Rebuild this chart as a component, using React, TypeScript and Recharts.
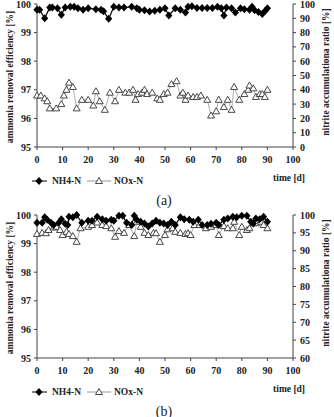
import { LineChart, Line, XAxis, YAxis } from "recharts";

// days on the x axis
const dayTicks = [0, 10, 20, 30, 40, 50, 60, 70, 80, 90, 100];
const effTicks = [95, 96, 97, 98, 99, 100];
const ratioTicksA = [0, 10, 20, 30, 40, 50, 60, 70, 80, 90, 100];
const ratioTicksB = [60, 65, 70, 75, 80, 85, 90, 95, 100];

// (a) NH4-N removal efficiency [%]
const nh4DaysA = [0, 1, 3, 5, 6, 8, 9.5, 11, 13, 14.5, 16, 18, 20, 23, 25, 26, 28, 30, 32, 34, 37, 39, 40, 42, 44, 46, 48, 50, 51.5, 54, 56, 58, 59, 60.5, 62.5, 64.5, 66.5, 68.5, 70.5, 72, 73, 74, 76, 77.5, 79.5, 81, 83, 84, 85, 86.5, 88, 89, 90];
const nh4A = [99.8, 99.8, 99.5, 99.88, 99.88, 99.85, 99.62, 99.88, 99.9, 99.9, 99.85, 99.8, 99.85, 99.82, 99.8, 99.75, 99.48, 99.9, 99.88, 99.88, 99.9, 99.85, 99.8, 99.78, 99.74, 99.76, 99.8, 99.85, 99.6, 99.85, 99.8, 99.7, 99.9, 99.92, 99.86, 99.86, 99.86, 99.86, 99.9, 99.85, 99.6, 99.88, 99.85, 99.7, 99.85, 99.82, 99.8, 99.9, 99.78, 99.72, 99.65, 99.75, 99.85];

// (a) NOx-N nitrite accumulation ratio [%]
const noxDaysA = [0, 1.5, 3, 4, 5, 7.5, 9.5, 10.5, 11.5, 12.5, 14, 15.5, 17.5, 20, 22, 23, 24.5, 26.5, 28.5, 30.5, 32, 34.5, 36, 37.5, 38.5, 39.5, 41, 42, 43, 45, 47, 48, 49.5, 51, 52.5, 54.5, 56, 57, 58, 59, 61, 62.5, 64, 66.5, 68, 70, 71, 73, 74.5, 76, 77, 79, 81, 82.5, 83, 84.5, 85.5, 87, 88, 89, 90];
const noxA = [36, 36, 34, 32, 27, 27, 30, 36, 40, 45, 42, 27, 33, 33, 29, 39, 32, 26, 38, 32, 40, 38, 38, 40, 33, 37, 38, 40, 37, 38, 34, 33, 37, 38, 44, 46, 36, 38, 33, 36, 35, 35, 36, 33, 22, 25, 33, 28, 33, 26, 42, 33, 37, 40, 43, 41, 35, 37, 37, 35, 40];

// (b) NH4-N removal efficiency [%]
const nh4DaysB = [0, 2, 3, 4, 5.5, 6.5, 8.5, 9.5, 11, 12, 12.5, 14, 15.5, 17.5, 20, 21.5, 23.5, 25.5, 27, 29, 30, 32, 33.5, 35, 37, 38, 39, 40.5, 42, 43.5, 45, 46.5, 48, 49.5, 51, 52.5, 54, 56, 57.5, 59.5, 61, 63, 64.5, 66.5, 68, 70, 71, 73, 74.5, 76.5, 78, 80, 82, 83.5, 84.5, 85.5, 87, 88.5, 90];
const nh4B = [99.73, 99.73, 99.92, 99.83, 99.73, 99.65, 99.73, 99.85, 99.69, 99.65, 99.94, 99.92, 100, 99.73, 99.8, 99.8, 99.94, 99.85, 99.8, 99.83, 99.8, 99.97, 99.97, 99.73, 99.65, 99.97, 99.83, 99.76, 99.7, 99.6, 99.7, 99.8, 99.73, 99.7, 99.65, 99.76, 99.65, 99.92, 99.85, 99.83, 99.76, 99.83, 99.65, 99.65, 99.69, 99.73, 99.65, 99.83, 99.88, 99.94, 99.92, 99.97, 99.97, 99.76, 99.7, 99.88, 99.85, 99.94, 99.76];

// (b) NOx-N nitrite accumulation ratio [%]
const noxDaysB = [0, 2, 3.5, 4.5, 6.5, 7.5, 9, 10, 11.5, 12.5, 14, 15.5, 17, 20, 21.5, 23.5, 25.5, 27, 29, 30.5, 32, 34, 36, 38, 39, 40.5, 42, 43.5, 45.5, 46.5, 48, 50, 51, 53, 54, 56, 58, 59, 60, 61.5, 63.5, 66, 68, 70, 71, 73, 74.5, 76.5, 77, 79, 80, 82, 83, 84.5, 85.5, 87.5, 88.5, 90];
const noxB = [94.7, 95, 94.9, 95.8, 96.5, 96.7, 95.8, 94.4, 95.3, 94.7, 94.1, 92.5, 96.3, 96.7, 97.2, 97.9, 97.2, 96.9, 96.3, 93.9, 95.5, 95, 97.2, 94.1, 98.1, 96.7, 95, 94.4, 95, 94.9, 92.5, 94.4, 96, 96.3, 95.3, 95, 94.7, 94.9, 94.4, 97.2, 97.2, 96.3, 96.7, 97.2, 94.4, 96.9, 96.3, 96.3, 98.1, 94.4, 96.7, 95.8, 96.3, 97.7, 97.7, 98.1, 97.2, 96.3];

const zip = (days: number[], values: number[]) =>
  days.map((day, i) => ({ day, value: values[i] }));

const FONT = "'Liberation Serif', 'Times New Roman', serif";
const tickStyle = { fontSize: 10, fontWeight: "bold", fill: "#222", fontFamily: FONT };

const diamond = (props: any) => {
  const { cx, cy, index } = props;
  return (
    <path
      key={`dm-${index}`}
      d={`M${cx},${cy - 4}L${cx + 3.6},${cy}L${cx},${cy + 4}L${cx - 3.6},${cy}Z`}
      fill="#000"
    />
  );
};

const triangle = (props: any) => {
  const { cx, cy, index } = props;
  return (
    <path
      key={`tr-${index}`}
      d={`M${cx},${cy - 3.5}L${cx + 3.5},${cy + 2.5}L${cx - 3.5},${cy + 2.5}Z`}
      fill="#fff"
      stroke="#333"
      strokeWidth={0.9}
    />
  );
};

interface PanelProps {
  top: number;
  nh4: { day: number; value: number }[];
  nox: { day: number; value: number }[];
  ratioTicks: number[];
}

const Panel = ({ top, nh4, nox, ratioTicks }: PanelProps) => (
  <div style={{ position: "absolute", left: 0, top }}>
    <LineChart width={334} height={175} margin={{ top: 4, right: 0, bottom: 8, left: 0 }}>
      <XAxis
        dataKey="day"
        type="number"
        domain={[0, 100]}
        ticks={dayTicks}
        interval={0}
        height={20}
        tickSize={3}
        tickMargin={6}
        tick={tickStyle}
        stroke="#444"
      />
      <YAxis
        yAxisId="left"
        domain={[95, 100]}
        ticks={effTicks}
        interval={0}
        width={37}
        tickSize={3}
        tickMargin={3}
        tick={tickStyle}
        stroke="#444"
      />
      <YAxis
        yAxisId="right"
        orientation="right"
        domain={[ratioTicks[0], 100]}
        ticks={ratioTicks}
        interval={0}
        width={41}
        tickSize={3}
        tickMargin={4}
        tick={tickStyle}
        stroke="#444"
      />
      <Line
        yAxisId="right"
        data={nox}
        dataKey="value"
        name="NOx-N"
        stroke="#999"
        strokeWidth={0.8}
        dot={triangle}
        activeDot={false}
        isAnimationActive={false}
      />
      <Line
        yAxisId="left"
        data={nh4}
        dataKey="value"
        name="NH4-N"
        stroke="#000"
        strokeWidth={1.2}
        dot={diamond}
        activeDot={false}
        isAnimationActive={false}
      />
    </LineChart>
  </div>
);

const Decorations = ({ top, caption }: { top: number; caption: string }) => {
  const lbl = { fontSize: 9.5, fontWeight: "bold" as const, fill: "#222", fontFamily: FONT };
  const ly = top + 181;
  return (
    <g>
      <text x={10} y={top + 77} transform={`rotate(-90, 10, ${top + 77})`} textAnchor="middle" dominantBaseline="central" {...lbl}>
        ammonia removal efficiency [%]
      </text>
      <text x={326} y={top + 72} transform={`rotate(-90, 326, ${top + 72})`} textAnchor="middle" dominantBaseline="central" {...lbl}>
        nitrite accumulationa ratio [%]
      </text>
      <line x1={32} x2={47} y1={ly} y2={ly} stroke="#000" />
      <path d={`M39,${ly - 4}L42.6,${ly}L39,${ly + 4}L35.4,${ly}Z`} fill="#000" />
      <text x={52} y={ly} dominantBaseline="central" {...lbl}>NH4-N</text>
      <line x1={87} x2={111} y1={ly} y2={ly} stroke="#999" />
      <path d={`M99,${ly - 3.5}L102.5,${ly + 2.5}L95.5,${ly + 2.5}Z`} fill="#fff" stroke="#333" strokeWidth={0.9} />
      <text x={114} y={ly} dominantBaseline="central" {...lbl}>NOx-N</text>
      <text x={305} y={top + 178} textAnchor="end" dominantBaseline="central" {...lbl}>time [d]</text>
      <text x={164} y={top + 200} textAnchor="middle" dominantBaseline="central" fontSize={14} fill="#222" fontFamily={FONT}>
        {caption}
      </text>
    </g>
  );
};

export default function App() {
  return (
    <div style={{ position: "absolute", left: 0, top: 0, width: 334, height: 417, background: "#fff", overflow: "hidden" }}>
      <Panel top={0} nh4={zip(nh4DaysA, nh4A)} nox={zip(noxDaysA, noxA)} ratioTicks={ratioTicksA} />
      <Panel top={211} nh4={zip(nh4DaysB, nh4B)} nox={zip(noxDaysB, noxB)} ratioTicks={ratioTicksB} />
      <svg width={334} height={417} style={{ position: "absolute", left: 0, top: 0, pointerEvents: "none" }}>
        <Decorations top={0} caption="(a)" />
        <Decorations top={211} caption="(b)" />
      </svg>
    </div>
  );
}
